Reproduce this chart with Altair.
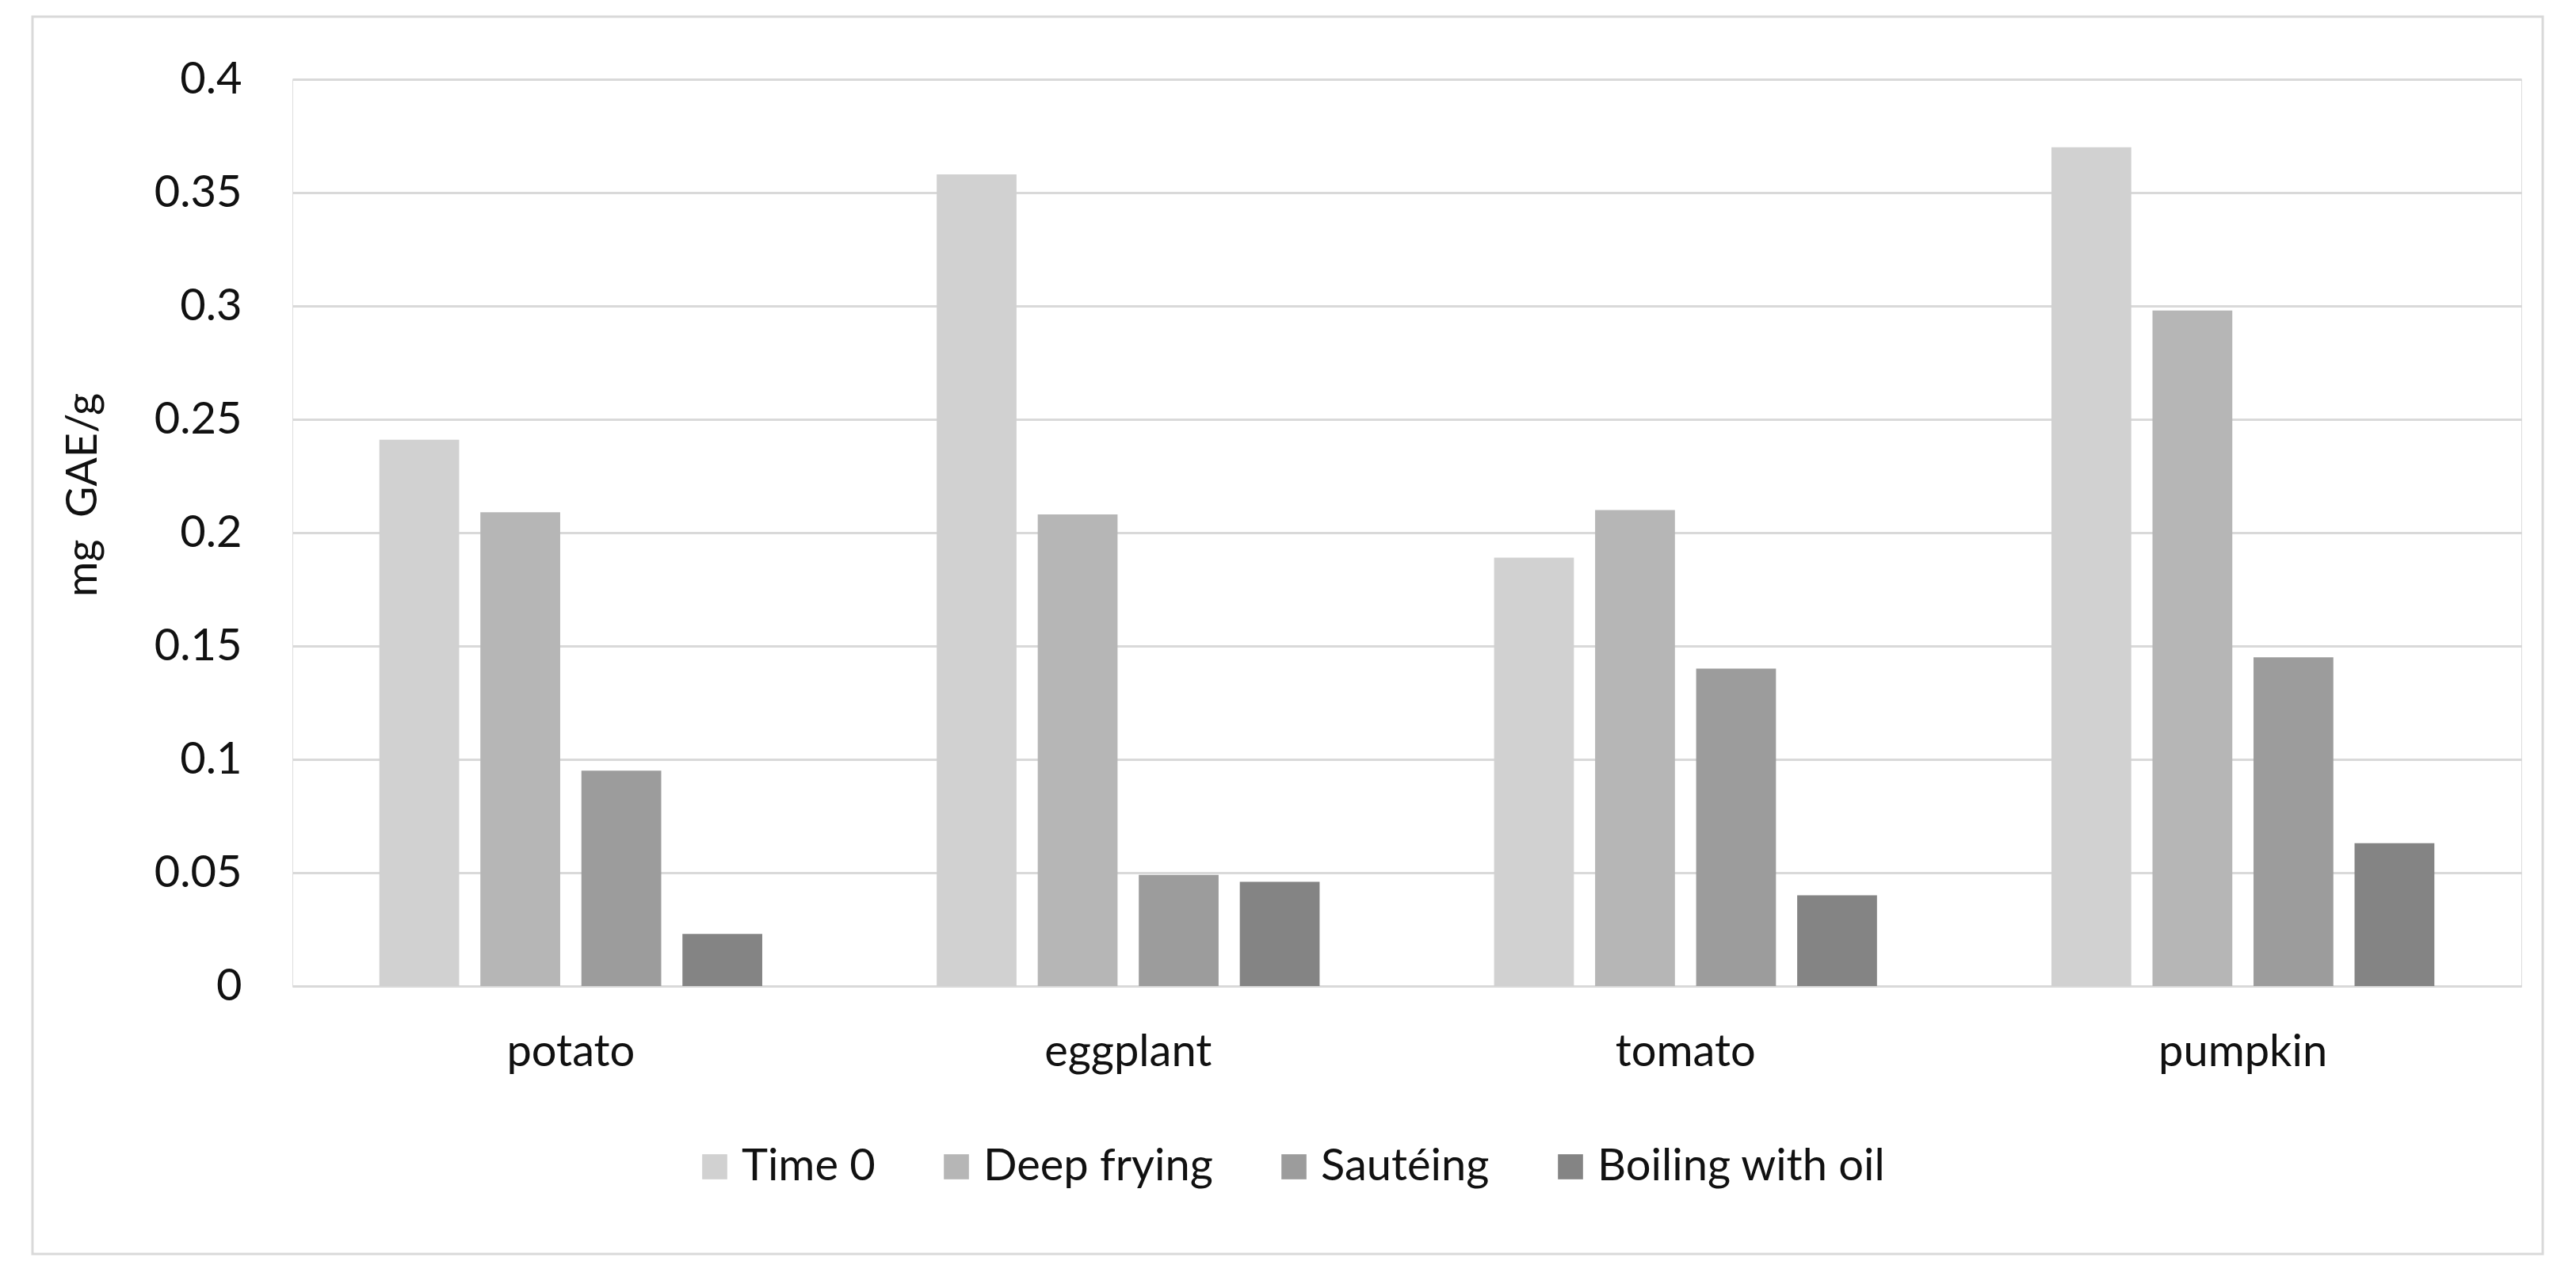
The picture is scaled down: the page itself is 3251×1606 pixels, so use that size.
import altair as alt
import pandas as pd

categories = ["potato", "eggplant", "tomato", "pumpkin"]
series = ["Time 0", "Deep frying", "Sautéing", "Boiling with oil"]
time0 = [0.241, 0.358, 0.189, 0.370]
deep_frying = [0.209, 0.208, 0.210, 0.298]
sauteing = [0.095, 0.049, 0.140, 0.145]
boiling_oil = [0.023, 0.046, 0.040, 0.063]
colors = ["#d1d1d1", "#b6b6b6", "#9c9c9c", "#848484"]
y_ticks = [0, 0.05, 0.1, 0.15, 0.2, 0.25, 0.3, 0.35, 0.4]

rows = []
for s, vals in zip(series, [time0, deep_frying, sauteing, boiling_oil]):
    for c, v in zip(categories, vals):
        rows.append({"category": c, "series": s, "value": v})
df = pd.DataFrame(rows)

FONT = "Lato"
FS = 56
W, H = 2813, 1144

bars = alt.Chart(df).mark_bar().encode(
    x=alt.X("category:N", sort=categories,
            scale=alt.Scale(paddingInner=0.313, paddingOuter=0.156),
            axis=alt.Axis(title=None, labelAngle=0, labelFontSize=FS, labelFont=FONT,
                          labelColor="#111111", labelPadding=56, labelLimit=0, ticks=False,
                          domain=True, domainColor="#d9d9d9", domainWidth=3, grid=False)),
    xOffset=alt.XOffset("series:N", sort=series,
                        scale=alt.Scale(paddingInner=0.21, paddingOuter=0)),
    y=alt.Y("value:Q",
            scale=alt.Scale(domain=[0, 0.4], nice=False),
            axis=alt.Axis(values=y_ticks, labelFontSize=FS, labelFont=FONT,
                          labelColor="#111111", labelPadding=64, ticks=False,
                          domain=False, grid=True, gridColor="#d9d9d9", gridWidth=3,
                          labelExpr="datum.value == 0 ? '0' : format(datum.value, '')",
                          title="mg\u00a0 GAE/g", titleFont=FONT, titleFontSize=54,
                          titleFontWeight="normal", titleColor="#111111",
                          titleAngle=270, titleBaseline="middle",
                          titleX=-264, titleY=524)),
    color=alt.Color("series:N", sort=series,
                    scale=alt.Scale(domain=series, range=colors),
                    legend=alt.Legend(title=None, orient="none", direction="horizontal",
                                      columns=4, legendX=505, legendY=1344,
                                      symbolType="square", symbolSize=1000,
                                      symbolStrokeWidth=0, labelFontSize=FS,
                                      labelFont=FONT, labelColor="#111111",
                                      labelLimit=0, labelOffset=6, columnPadding=74)),
)

border = alt.Chart(pd.DataFrame({"k": [0]})).mark_rect(
    filled=False, stroke="#d9d9d9", strokeWidth=3
).encode(
    x=alt.value(-328), x2=alt.value(2840), y=alt.value(-79), y2=alt.value(1482)
)

chart = alt.layer(border, bars).properties(
    width=W, height=H,
    autosize=alt.AutoSizeParams(type="none"),
    padding={"left": 361, "top": 92, "right": 61, "bottom": 354},
).configure_view(stroke=None).configure(background="white")

chart.save("out.html", embed_options={"renderer": "svg", "actions": False})
